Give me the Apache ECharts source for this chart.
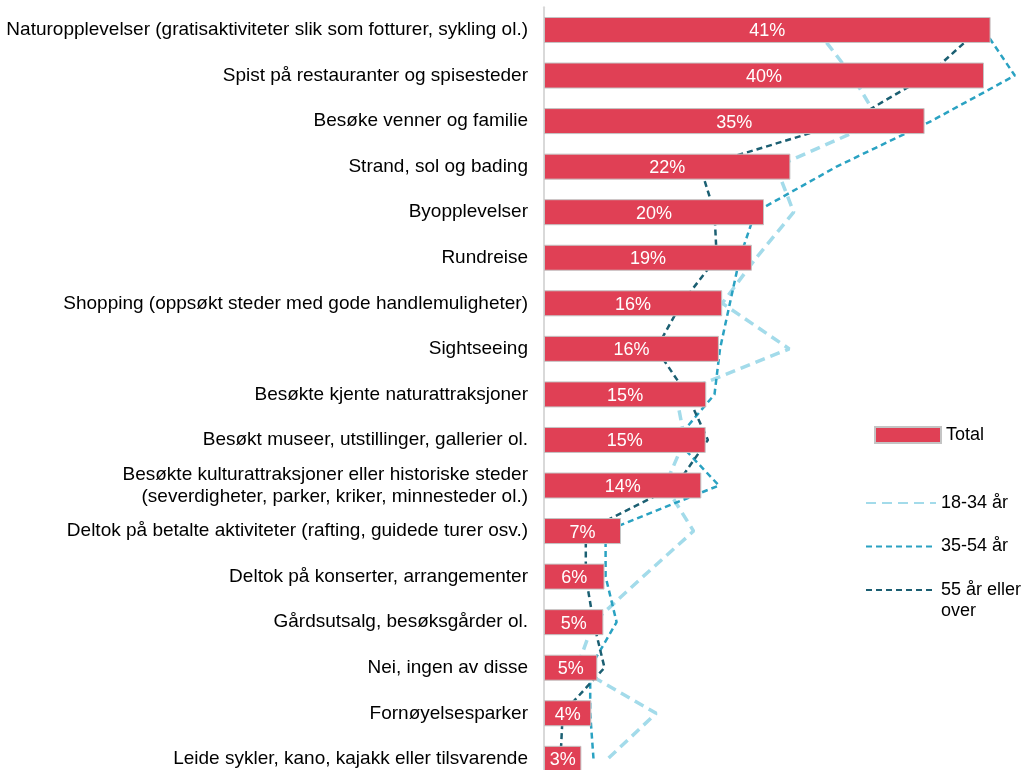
<!DOCTYPE html>
<html>
<head>
<meta charset="utf-8">
<script src="https://cdn.jsdelivr.net/npm/echarts@6/dist/echarts.min.js"></script>
<style>
html,body{margin:0;padding:0;background:#fff;}
#chart{width:1026px;height:770px;}
</style>
</head>
<body>
<div id="chart"></div>
<script>
const categories = [
  'Naturopplevelser (gratisaktiviteter slik som fotturer, sykling ol.)',
  'Spist på restauranter og spisesteder',
  'Besøke venner og familie',
  'Strand, sol og bading',
  'Byopplevelser',
  'Rundreise',
  'Shopping (oppsøkt steder med gode handlemuligheter)',
  'Sightseeing',
  'Besøkte kjente naturattraksjoner',
  'Besøkt museer, utstillinger, gallerier ol.',
  'Besøkte kulturattraksjoner eller historiske steder\n(severdigheter, parker, kriker, minnesteder ol.)',
  'Deltok på betalte aktiviteter (rafting, guidede turer osv.)',
  'Deltok på konserter, arrangementer',
  'Gårdsutsalg, besøksgårder ol.',
  'Nei, ingen av disse',
  'Fornøyelsesparker',
  'Leide sykler, kano, kajakk eller tilsvarende'
];
const total   = [40.6, 40.0, 34.6, 22.4, 20.0, 18.9, 16.2, 15.9, 14.75, 14.7, 14.3, 7.0, 5.5, 5.4, 4.85, 4.3, 3.4];
const age1834 = [24.8, 28.0, 30.5, 21.1, 22.7, 19.3, 16.2, 22.3, 12.0, 12.8, 11.0, 13.6, 9.0, 4.5, 3.0, 10.2, 5.8];
const age3554 = [40.0, 42.8, 35.2, 26.6, 19.2, 17.8, 16.9, 16.0, 15.5, 12.0, 15.9, 5.6, 5.6, 6.6, 4.2, 4.2, 4.5];
const age55   = [39.5, 34.9, 27.8, 14.2, 15.5, 15.7, 12.5, 10.2, 13.0, 14.9, 12.0, 3.8, 3.8, 4.5, 5.5, 1.7, 1.5];
const seriesNames = ['Total', '18-34 år', '35-54 år', '55 år eller over'];

const FONT = '"Liberation Sans", Arial, sans-serif';
const chart = echarts.init(document.getElementById('chart'), null, {renderer: 'canvas'});

function lineSeries(name, data, color, width, dash) {
  return {
    name: name, type: 'line', data: data, z: 2,
    symbol: 'none', showSymbol: false, clip: false, silent: true,
    lineStyle: {color: color, width: width, type: dash, cap: 'butt'},
    itemStyle: {color: color}
  };
}
const hiddenSymbol = {color: 'rgba(0,0,0,0)', borderWidth: 0, opacity: 0};

chart.setOption({
  animation: false,
  backgroundColor: '#ffffff',
  textStyle: {fontFamily: FONT},
  grid: {left: 544, top: 7.2, width: 484, height: 774.4, containLabel: false, outerBoundsMode: 'none'},
  xAxis: {type: 'value', min: 0, max: 44, show: false},
  yAxis: {
    type: 'category', data: categories, inverse: true,
    axisLine: {show: true, lineStyle: {color: '#d9d9d9', width: 2}},
    axisTick: {show: false},
    axisLabel: {color: '#000', fontSize: 19, fontFamily: FONT, margin: 16, lineHeight: 22, align: 'right'},
    splitLine: {show: false}
  },
  legend: [
    {
      data: [seriesNames[0]], left: 874, top: 426, orient: 'vertical', padding: 0,
      itemWidth: 66, itemHeight: 16, icon: 'rect',
      textStyle: {fontSize: 18, color: '#000', fontFamily: FONT}
    },
    {
      data: [seriesNames[1], seriesNames[2]], left: 865, top: 494, orient: 'vertical', padding: 0,
      itemWidth: 70, itemHeight: 20, itemGap: 25.5, itemStyle: hiddenSymbol,
      textStyle: {fontSize: 18, color: '#000', fontFamily: FONT}
    },
    {
      data: [seriesNames[3]], left: 865, top: 558.5, orient: 'vertical', padding: 0,
      itemWidth: 70, itemHeight: 20, itemStyle: hiddenSymbol,
      formatter: function () { return ' \n55 år eller\nover'; },
      textStyle: {fontSize: 18, color: '#000', fontFamily: FONT, lineHeight: 21}
    }
  ],
  series: [
    lineSeries(seriesNames[1], age1834, '#a3dbea', 3.5, [10, 6]),
    lineSeries(seriesNames[2], age3554, '#2aa2c2', 2.5, [6, 4]),
    lineSeries(seriesNames[3], age55, '#1b5f72', 2.5, [6, 4]),
    {
      name: seriesNames[0], type: 'bar', data: total, z: 3, barWidth: 26,
      itemStyle: {color: '#e04055', borderColor: '#c4c4c4', borderWidth: 1},
      label: {
        show: true, position: 'inside', color: '#fff', fontSize: 18, fontFamily: FONT, offset: [0, 1.5],
        formatter: function (p) { return Math.round(p.value) + '%'; }
      }
    }
  ]
});
</script>
</body>
</html>
